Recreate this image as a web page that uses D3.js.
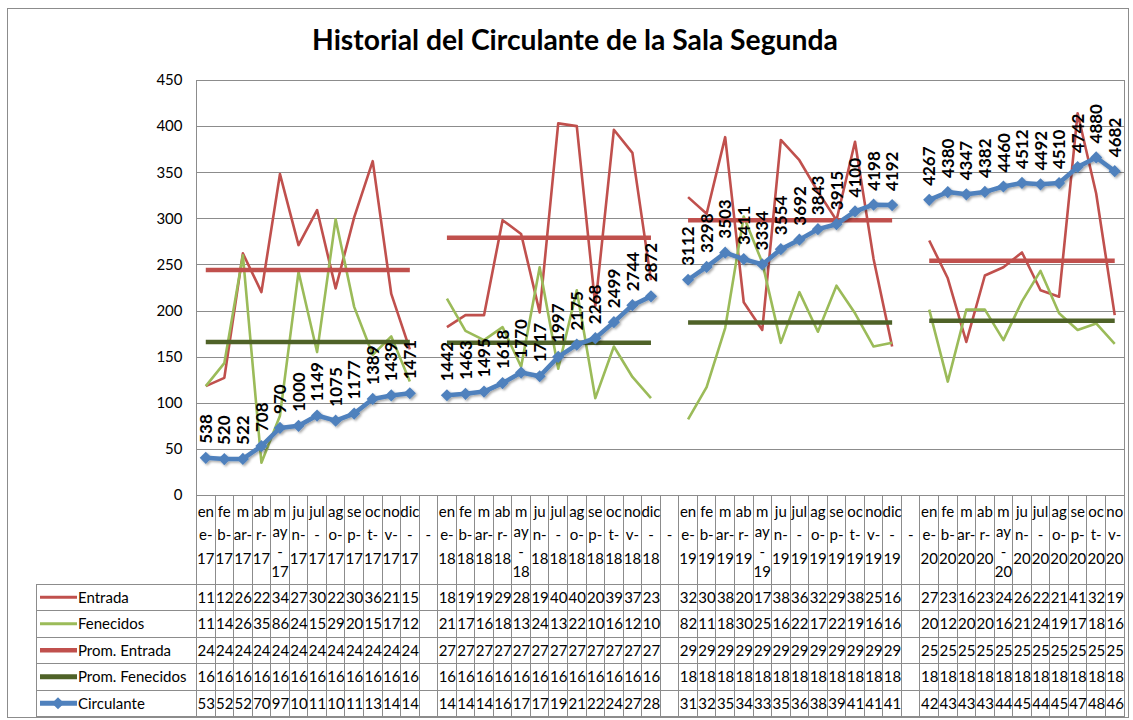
<!DOCTYPE html>
<html>
<head>
<meta charset="utf-8">
<script src="https://cdn.jsdelivr.net/npm/d3@7"></script>
<style>
  body { margin: 0; background: #fff; }
  svg { font-family: Lato, "Noto Sans", sans-serif; }
</style>
</head>
<body>
<div id="chart"></div>
<script>
// Categories ("-" = empty separator column between years)
var categories = [
  "ene-17","feb-17","mar-17","abr-17","may-17","jun-17","jul-17","ago-17","sep-17","oct-17","nov-17","dic-17", "-",
  "ene-18","feb-18","mar-18","abr-18","may-18","jun-18","jul-18","ago-18","sep-18","oct-18","nov-18","dic-18", "-",
  "ene-19","feb-19","mar-19","abr-19","may-19","jun-19","jul-19","ago-19","sep-19","oct-19","nov-19","dic-19", "-",
  "ene-20","feb-20","mar-20","abr-20","may-20","jun-20","jul-20","ago-20","sep-20","oct-20","nov-20"
];

var entrada = [
  118,127,262,220,348,271,309,224,301,362,218,158, null,
  182,195,195,298,283,198,403,400,205,396,371,233, null,
  323,305,388,209,179,385,363,329,298,383,256,161, null,
  276,235,166,238,247,263,222,215,414,327,195
];

var fenecidos = [
  118,143,260,35,86,242,155,299,204,152,172,123, null,
  213,178,168,182,139,247,137,222,105,161,128,105, null,
  82,117,181,302,252,165,220,177,227,197,161,165, null,
  201,123,201,201,168,210,243,197,179,186,164
];

var circulante = [
  538,520,522,708,970,1000,1149,1075,1177,1389,1439,1471, null,
  1442,1463,1495,1618,1770,1717,1997,2175,2268,2499,2744,2872, null,
  3112,3298,3503,3411,3334,3554,3692,3843,3915,4100,4198,4192, null,
  4267,4380,4347,4382,4460,4512,4492,4510,4742,4880,4682
];

// yearly averages
var years = ["17","18","19","20"];
var promEntrada = [244, 279, 298, 254];
var promFenecidos = [166, 165, 187, 189];

var yTicks = [0,50,100,150,200,250,300,350,400,450];

// Excel-like wrapping of the narrow category labels
var monthWrap = {
  ene:["en","e-"], feb:["fe","b-"], mar:["m","ar-"], abr:["ab","r-"],
  may:["m","ay","-"], jun:["ju","n-"], jul:["jul","-"], ago:["ag","o-"],
  sep:["se","p-"], oct:["oc","t-"], nov:["no","v-"], dic:["dic","-"]
};

var W = 1133, H = 720;
var plot = {left: 196.5, right: 1124, top: 80, bottom: 495};
var tableTop = 584, rowH = 26.5, legendLeft = 36;

var svg = d3.select("#chart").append("svg")
  .attr("width", W).attr("height", H);

var defs = svg.append("defs");
defs.append("filter").attr("id", "shadow")
  .attr("x", "-20%").attr("y", "-20%").attr("width", "140%").attr("height", "140%")
  .append("feDropShadow")
    .attr("dx", 1.5).attr("dy", 1.5).attr("stdDeviation", 1.2)
    .attr("flood-color", "#000").attr("flood-opacity", 0.35);

// outer chart border
svg.append("rect")
  .attr("x", 7.5).attr("y", 8.5).attr("width", 1121).attr("height", 709)
  .attr("fill", "#fff").attr("stroke", "#8c8c8c").attr("stroke-width", 1);

var x = d3.scaleBand().domain(d3.range(categories.length))
  .range([plot.left, plot.right]).paddingInner(0).paddingOuter(0);
var xc = function(i) { return x(i) + x.bandwidth() / 2; };

var y = d3.scaleLinear().domain([0, 450]).range([plot.bottom, plot.top]);
// hidden secondary axis for Circulante
var y2 = d3.scaleLinear().domain([0, 6000]).range([plot.bottom, plot.top]);

// title
var title = svg.append("text")
  .attr("x", 575).attr("y", 50)
  .attr("text-anchor", "middle")
  .style("font-weight", "bold").style("font-size", "26px")
  .text("Historial del Circulante de la Sala Segunda");
var tl = title.node().getComputedTextLength();
title.style("font-size", (26 * 526 / tl) + "px");

// gridlines + y axis labels
var yAxis = d3.axisLeft(y).tickValues(yTicks).tickSize(-(plot.right - plot.left)).tickPadding(14);
var gy = svg.append("g").attr("transform", "translate(" + plot.left + ",0)").call(yAxis);
gy.select(".domain").remove();
gy.selectAll(".tick line").attr("stroke", "#8c8c8c").attr("shape-rendering", "crispEdges");
gy.selectAll(".tick text").style("font-size", "15px").attr("fill", "#000")
  .attr("font-family", "Lato, 'Noto Sans', sans-serif");

// vertical axis line and right plot border
svg.append("line").attr("x1", plot.left).attr("x2", plot.left)
  .attr("y1", plot.top).attr("y2", tableTop + rowH * 5)
  .attr("stroke", "#8c8c8c").attr("shape-rendering", "crispEdges");
svg.append("line").attr("x1", plot.right).attr("x2", plot.right)
  .attr("y1", plot.top).attr("y2", tableTop + rowH * 5)
  .attr("stroke", "#8c8c8c").attr("shape-rendering", "crispEdges");

// category column separators down through the table
svg.append("g").selectAll("line").data(d3.range(1, categories.length)).join("line")
  .attr("x1", function(i) { return x(i); }).attr("x2", function(i) { return x(i); })
  .attr("y1", plot.bottom).attr("y2", tableTop + rowH * 5)
  .attr("stroke", "#8c8c8c").attr("shape-rendering", "crispEdges");

// category labels
var catG = svg.append("g").style("font-size", "15px");
categories.forEach(function(c, i) {
  var lines;
  if (c === "-") lines = ["", "-", ""];
  else {
    var parts = c.split("-");
    lines = monthWrap[parts[0]].concat([parts[1]]);
  }
  var step = lines.length === 4 ? 20.3 : 23.5;
  var t = catG.append("text").attr("text-anchor", "middle");
  lines.forEach(function(l, k) {
    t.append("tspan").attr("x", xc(i)).attr("y", 516.5 + k * step).text(l);
  });
});

// series rows for the data table
function yearOf(i) {
  var c = categories[i];
  return c === "-" ? -1 : years.indexOf(c.split("-")[1]);
}
var promEntradaS = categories.map(function(c, i) { var k = yearOf(i); return k < 0 ? null : promEntrada[k]; });
var promFenecidosS = categories.map(function(c, i) { var k = yearOf(i); return k < 0 ? null : promFenecidos[k]; });

var series = [
  {name: "Entrada", values: entrada, color: "#C0504D", width: 2.6, keyW: 3, scale: y},
  {name: "Fenecidos", values: fenecidos, color: "#9BBB59", width: 2.6, keyW: 3, scale: y},
  {name: "Prom. Entrada", values: promEntradaS, color: "#C0504D", width: 4.5, keyW: 4.5, scale: y},
  {name: "Prom. Fenecidos", values: promFenecidosS, color: "#4F6228", width: 4.5, keyW: 5, scale: y},
  {name: "Circulante", values: circulante, color: "#4F81BD", width: 4.5, keyW: 5, scale: y2, marker: true}
];

// table grid
var tableBottom = tableTop + rowH * series.length;
var tg = svg.append("g");
d3.range(series.length + 1).forEach(function(r) {
  tg.append("line").attr("x1", legendLeft).attr("x2", plot.right)
    .attr("y1", tableTop + r * rowH).attr("y2", tableTop + r * rowH)
    .attr("stroke", "#8c8c8c").attr("shape-rendering", "crispEdges");
});
tg.append("line").attr("x1", legendLeft).attr("x2", legendLeft)
  .attr("y1", tableTop).attr("y2", tableBottom)
  .attr("stroke", "#8c8c8c").attr("shape-rendering", "crispEdges");

var diamond = d3.symbol().type(d3.symbolDiamond2).size(95);

series.forEach(function(s, r) {
  var cy = tableTop + r * rowH + rowH / 2;
  // legend key
  tg.append("line").attr("x1", 40).attr("x2", 77).attr("y1", cy).attr("y2", cy)
    .attr("stroke", s.color).attr("stroke-width", s.keyW);
  if (s.marker) {
    tg.append("path").attr("d", diamond).attr("transform", "translate(58," + cy + ")")
      .attr("fill", s.color);
  }
  tg.append("text").attr("x", 78).attr("y", cy).attr("dy", "0.36em")
    .style("font-size", "15px").text(s.name);
  // clipped values, as Excel shows them in narrow cells
  s.values.forEach(function(v, i) {
    if (v === null) return;
    tg.append("text").attr("x", x(i) + 1).attr("y", cy).attr("dy", "0.36em")
      .style("font-size", "15px").text(String(Math.round(v)).slice(0, 2));
  });
});

// lines
series.forEach(function(s) {
  var line = d3.line()
    .defined(function(d) { return d !== null; })
    .x(function(d, i) { return xc(i); })
    .y(function(d) { return s.scale(d); });
  var g = svg.append("g");
  if (s.marker) g.attr("filter", "url(#shadow)");
  g.append("path").datum(s.values)
    .attr("d", line).attr("fill", "none")
    .attr("stroke", s.color).attr("stroke-width", s.width)
    .attr("stroke-linejoin", "round");
  if (s.marker) {
    g.selectAll(".pt").data(s.values.map(function(v, i) { return {v: v, i: i}; })
        .filter(function(d) { return d.v !== null; }))
      .join("path").attr("class", "pt")
      .attr("d", diamond)
      .attr("transform", function(d) { return "translate(" + xc(d.i) + "," + y2(d.v) + ")"; })
      .attr("fill", s.color);
  }
});

// data labels for Circulante
svg.append("g").selectAll("text")
  .data(circulante.map(function(v, i) { return {v: v, i: i}; }).filter(function(d) { return d.v !== null; }))
  .join("text")
  .attr("transform", function(d) { return "translate(" + xc(d.i) + "," + (y2(d.v) - 14) + ") rotate(-90)"; })
  .attr("dy", "0.36em")
  .style("font-size", "17px").style("font-weight", "bold")
  .text(function(d) { return d.v; });
</script>
</body>
</html>
